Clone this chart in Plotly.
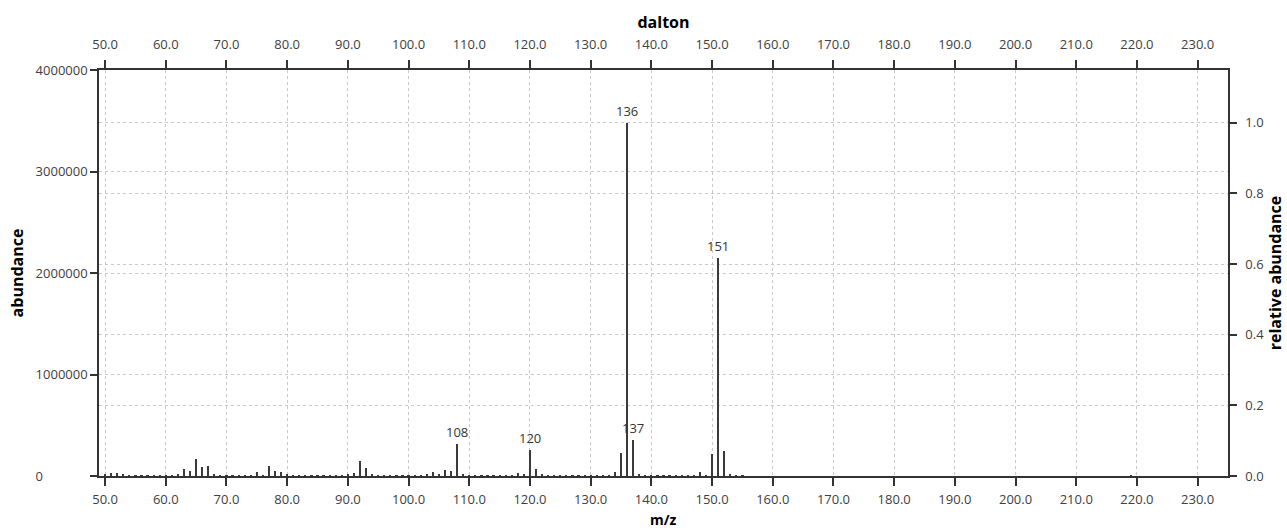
import plotly.graph_objects as go

# m/z values and their abundances
mz = [50, 51, 52, 53, 54, 55, 56, 57, 58, 59,
      60, 61, 62, 63, 64, 65, 66, 67, 68, 69,
      70, 71, 72, 73, 74, 75, 76, 77, 78, 79,
      80, 81, 82, 83, 84, 85, 86, 87, 88, 89,
      90, 91, 92, 93, 94, 95, 96, 97, 98, 99,
      100, 101, 102, 103, 104, 105, 106, 107, 108, 109,
      110, 111, 112, 113, 114, 115, 116, 117, 118, 119,
      120, 121, 122, 123, 124, 125, 126, 127, 128, 129,
      130, 131, 132, 133, 134, 135, 136, 137, 138, 139,
      140, 141, 142, 143, 144, 145, 146, 147, 148, 149,
      150, 151, 152, 153, 154, 155, 219]
abundance = [20000, 33000, 28000, 18000, 8000, 9000, 6000, 7000, 6000, 5000,
             6000, 9000, 14000, 73000, 46000, 168000, 86000, 99000, 14000, 8000,
             5000, 6000, 5000, 6000, 8000, 36000, 9000, 96000, 50000, 36000,
             15000, 8000, 6000, 9000, 6000, 5000, 6000, 5000, 6000, 7000,
             16000, 26000, 149000, 83000, 12000, 6000, 5000, 6000, 5000, 6000,
             5000, 6000, 9000, 14000, 36000, 13000, 59000, 46000, 320000, 23000,
             6000, 5000, 5000, 6000, 5000, 6000, 7000, 9000, 30000, 16000,
             252000, 70000, 18000, 8000, 7000, 5000, 5000, 5000, 5000, 5000,
             5000, 6000, 7000, 9000, 36000, 224000, 3480000, 356000, 23000, 9000,
             6000, 5000, 5000, 5000, 5000, 5000, 5000, 9000, 36000, 9000,
             221000, 2150000, 248000, 23000, 8000, 5000, 4000]

labeled_peaks = [108, 120, 136, 137, 151]

x_ticks = [50, 60, 70, 80, 90, 100, 110, 120, 130, 140, 150, 160, 170, 180, 190, 200, 210, 220, 230]
y_ticks = [0, 1000000, 2000000, 3000000, 4000000]
rel_ticks = [0.0, 0.2, 0.4, 0.6, 0.8, 1.0]

max_ab = max(abundance)
relative = [a / max_ab for a in abundance]

FONT = "Open Sans"
BAR = "#3a3a3a"
GRID = "#c9c9c9"
AXIS = "#333333"
TICKC = "#404040"

fig = go.Figure()
fig.add_trace(go.Bar(x=mz, y=abundance, width=0.36, marker=dict(color=BAR, line=dict(width=0)),
                     hoverinfo="x+y", showlegend=False))
# invisible companion trace that drives the top and right axes
fig.add_trace(go.Scatter(x=mz, y=relative, xaxis="x2", yaxis="y2", mode="markers",
                         marker=dict(opacity=0, size=1), hoverinfo="skip", showlegend=False))

for p in labeled_peaks:
    i = mz.index(p)
    fig.add_annotation(x=p, y=abundance[i], xref="x", yref="y", text=str(p), showarrow=False,
                       yanchor="bottom", yshift=1, font=dict(family=FONT, size=13, color="#333333"))

# bottom axis title, placed close to the page edge as in the reference
fig.add_annotation(x=0.5, y=0, xref="paper", yref="paper", text="<b>m/z</b>", showarrow=False,
                   yanchor="top", yshift=-33, borderpad=0,
                   font=dict(family=FONT, size=14, color="black"))

y_text = []
for v in y_ticks:
    s = str(int(v))
    y_text.append(s + "\u2007" * (7 - len(s)))

common_x = dict(range=[49, 235], tickvals=x_ticks, ticktext=[f"{v:.1f}" for v in x_ticks],
                ticks="outside", ticklen=8, tickwidth=1.5, tickcolor=AXIS,
                showline=True, linecolor=AXIS, linewidth=1.5, zeroline=False,
                automargin=False,
                tickfont=dict(family=FONT, size=13, color=TICKC))

fig.update_layout(
    width=1287, height=530,
    margin=dict(l=99, r=59, t=70, b=54),
    plot_bgcolor="white", paper_bgcolor="white",
    bargap=0,
    xaxis=dict(**common_x, ticklabelstandoff=3,
               showgrid=True, gridcolor=GRID, griddash="3px,3px", gridwidth=1),
    xaxis2=dict(**common_x, ticklabelstandoff=6, overlaying="x", side="top", anchor="y", showgrid=False,
                title=dict(text="dalton", font=dict(family=FONT, size=16, color="black", weight="bold"),
                           standoff=2)),
    yaxis=dict(range=[0, 4000000], tickvals=y_ticks, ticktext=y_text,
               ticks="outside", ticklen=7, tickwidth=1.5, tickcolor=AXIS,
               showline=True, linecolor=AXIS, linewidth=1.5, zeroline=False,
               showgrid=True, gridcolor=GRID, griddash="3px,3px", gridwidth=1,
               automargin=False,
               tickfont=dict(family=FONT, size=13, color=TICKC),
               title=dict(text="abundance", font=dict(family=FONT, size=16, color="black", weight="bold"),
                          standoff=8)),
    yaxis2=dict(range=[0, 4000000 / max_ab], overlaying="y", side="right", anchor="x",
                tickvals=rel_ticks, ticktext=[f"{v:.1f}" for v in rel_ticks],
                ticks="outside", ticklen=7, tickwidth=1.5, tickcolor=AXIS,
                showline=True, linecolor=AXIS, linewidth=1.5, zeroline=False,
                showgrid=True, gridcolor=GRID, griddash="3px,3px", gridwidth=1,
                ticklabelstandoff=6, automargin=False,
                tickfont=dict(family=FONT, size=13, color=TICKC),
                title=dict(text="relative abundance", font=dict(family=FONT, size=16, color="black", weight="bold"),
                           standoff=2)),
)

fig.write_html("out.html")
